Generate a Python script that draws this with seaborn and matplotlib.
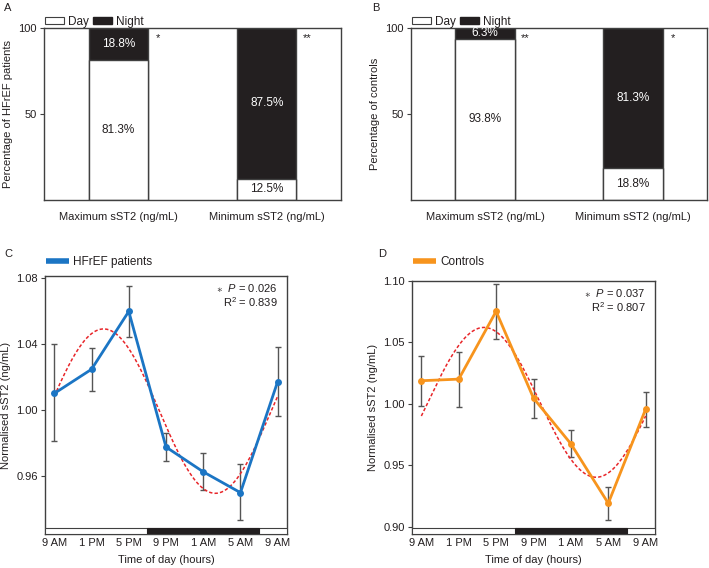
import numpy as np
import pandas as pd
import seaborn as sns
import matplotlib.pyplot as plt
from matplotlib.patches import Patch
from matplotlib.lines import Line2D

sns.set_theme(style='ticks')
plt.rcParams.update({
    'font.family': ['Liberation Sans', 'DejaVu Sans'],
    'font.size': 8,
    'mathtext.fontset': 'custom',
    'mathtext.rm': 'Liberation Sans',
    'mathtext.it': 'Liberation Sans:italic',
    'axes.edgecolor': '#404040',
    'axes.linewidth': 1.0,
    'xtick.color': '#404040',
    'ytick.color': '#404040',
    'xtick.labelcolor': '#231f20',
    'ytick.labelcolor': '#231f20',
    'text.color': '#231f20',
    'axes.labelcolor': '#231f20',
})

# --- bar panels (A, B) ---
categories = ['Maximum sST2 (ng/mL)', 'Minimum sST2 (ng/mL)']
hf_day = [81.3, 12.5]
hf_night = [18.8, 87.5]
hf_stars = ['*', '**']
ctrl_day = [93.8, 18.8]
ctrl_night = [6.3, 81.3]
ctrl_stars = ['**', '*']

# --- time course panels (C, D) ---
times = ['9 AM', '1 PM', '5 PM', '9 PM', '1 AM', '5 AM', '9 AM']
hf_mean = [1.010, 1.0246, 1.0596, 0.9776, 0.9626, 0.950, 1.0172]
hf_upper = [1.0396, 1.0376, 1.075, 0.9858, 0.9738, 0.9672, 1.038]
hf_lower = [0.981, 1.0114, 1.044, 0.9692, 0.9516, 0.9336, 0.9966]
ctrl_mean = [1.0188, 1.0201, 1.0753, 1.0046, 0.9674, 0.919, 0.9957]
ctrl_upper = [1.0386, 1.0421, 1.0978, 1.0201, 0.9783, 0.9326, 1.010]
ctrl_lower = [0.998, 0.9978, 1.053, 0.9886, 0.9565, 0.9054, 0.9813]

# cosinor fits (mesor, amplitude, peak in hours after 9 AM), 24 h period
hf_mesor, hf_amp, hf_peak_h = 0.9993, 0.0497, 5.3
ctrl_mesor, ctrl_amp, ctrl_peak_h = 1.0012, 0.061, 6.7
hf_p, hf_r2 = '0.026', '0.839'
ctrl_p, ctrl_r2 = '0.037', '0.807'

BLUE = '#1b75c4'
ORANGE = '#f7941d'
NIGHT = '#231f20'
EDGE = '#404040'
ERR = '#555555'
FIT = '#e8262a'

W, H = 709, 568
fig = plt.figure(figsize=(W / 100, H / 100), dpi=100)


def px_axes(left, top, right, bottom):
    return fig.add_axes([left / W, 1 - bottom / H, (right - left) / W, (bottom - top) / H])


def bar_panel(ax, day, night, stars, ylabel):
    total = [d + n for d, n in zip(day, night)]
    sns.barplot(x=categories, y=total, color=NIGHT, width=0.4, saturation=1,
                edgecolor=EDGE, linewidth=1, ax=ax)
    sns.barplot(x=categories, y=day, color='white', width=0.4, saturation=1,
                edgecolor=EDGE, linewidth=1, ax=ax)
    for i in range(len(categories)):
        ax.text(i, day[i] / 2, f'{day[i]:.1f}%', ha='center', va='center',
                fontsize=8.5, color='#231f20')
        ax.text(i, day[i] + night[i] / 2, f'{night[i]:.1f}%', ha='center',
                va='center', fontsize=8.5, color='white')
        ax.text(i + 0.27, 94, stars[i], ha='center', va='center', fontsize=8)
    ax.set_xlim(-0.5, 1.5)
    ax.set_ylim(0, 100)
    ax.set_yticks([50, 100])
    ax.set_ylabel(ylabel, fontsize=8, labelpad=4)
    ax.tick_params(axis='x', length=0, pad=9, labelsize=8)
    ax.tick_params(axis='y', length=3, width=0.8, pad=2, labelsize=8)
    handles = [Patch(facecolor='white', edgecolor=EDGE, linewidth=0.8, label='Day'),
               Patch(facecolor=NIGHT, edgecolor=NIGHT, label='Night')]
    ax.legend(handles=handles, loc='lower left', bbox_to_anchor=(0.0, 0.995),
              ncol=2, frameon=False, fontsize=8.5, handlelength=1.6, handleheight=0.5,
              handletextpad=0.3, columnspacing=0.4, borderaxespad=0, borderpad=0.1)


def time_panel(ax, mean, lower, upper, mesor, amp, peak_h, color, label,
               p, r2, yticks, ylim):
    xpos = np.arange(len(times))
    mean = np.array(mean)
    yerr = [mean - np.array(lower), np.array(upper) - mean]
    ax.errorbar(xpos, mean, yerr=yerr, fmt='none', ecolor=ERR, elinewidth=1,
                capsize=2.5, capthick=1, zorder=2)
    hours = np.linspace(0, 24, 200)
    fit = mesor + amp * np.cos(2 * np.pi * (hours - peak_h) / 24)
    sns.lineplot(x=hours / 4, y=fit, color=FIT, lw=1.1, dashes=False,
                 linestyle=(0, (2.2, 1.4)), ax=ax, zorder=3)
    sns.lineplot(x=xpos, y=mean, color=color, lw=2, marker='o', markersize=5,
                 markeredgewidth=0, ax=ax, zorder=4)
    ax.set_xlim(-0.25, 6.25)
    ax.set_ylim(*ylim)
    ax.set_xticks(xpos)
    ax.set_xticklabels(times)
    ax.set_yticks(yticks)
    ax.set_yticklabels([f'{v:.2f}' for v in yticks])
    ax.tick_params(axis='x', length=0, pad=3, labelsize=8)
    ax.tick_params(axis='y', length=3, width=0.8, pad=2, labelsize=8)
    ax.set_xlabel('Time of day (hours)', fontsize=8, labelpad=5)
    ax.set_ylabel('Normalised sST2 (ng/mL)', fontsize=8, labelpad=4)
    # day / night strip along the bottom
    ax.axvspan(-0.25, 6.25, ymin=0, ymax=0.022, facecolor='white',
               edgecolor=EDGE, lw=0.8, zorder=5)
    ax.axvspan(2.5, 5.5, ymin=0, ymax=0.022, facecolor=NIGHT, edgecolor=NIGHT,
               lw=0.8, zorder=6)
    ax.text(0.96, 0.975, r'$\ast$  $P$ = ' + p, transform=ax.transAxes,
            ha='right', va='top', fontsize=8)
    ax.text(0.96, 0.925, r'R$^2$ = ' + r2, transform=ax.transAxes,
            ha='right', va='top', fontsize=8)
    handles = [Line2D([], [], color=color, lw=4, solid_capstyle='butt', label=label)]
    x0 = ax.get_position().x0
    ax.legend(handles=handles, loc='center left', bbox_to_anchor=(x0, 1 - 262 / H),
              bbox_transform=fig.transFigure, frameon=False, fontsize=8.5,
              handlelength=1.9, handletextpad=0.4, borderaxespad=0, borderpad=0.1)


axA = px_axes(44, 28, 341, 200)
bar_panel(axA, hf_day, hf_night, hf_stars, 'Percentage of HFrEF patients')
axB = px_axes(411, 28, 707, 200)
bar_panel(axB, ctrl_day, ctrl_night, ctrl_stars, 'Percentage of controls')

axC = px_axes(45, 276, 287, 534)
time_panel(axC, hf_mean, hf_lower, hf_upper, hf_mesor, hf_amp, hf_peak_h, BLUE,
           'HFrEF patients', hf_p, hf_r2, [0.96, 1.00, 1.04, 1.08], (0.925, 1.081))
axD = px_axes(412, 281, 655, 534)
time_panel(axD, ctrl_mean, ctrl_lower, ctrl_upper, ctrl_mesor, ctrl_amp, ctrl_peak_h,
           ORANGE, 'Controls', ctrl_p, ctrl_r2, [0.90, 0.95, 1.00, 1.05, 1.10],
           (0.894, 1.10))

for letter, x, y in [('A', 4, 8), ('B', 372, 8), ('C', 4, 254), ('D', 378, 254)]:
    fig.text(x / W, 1 - y / H, letter, ha='left', va='center', fontsize=8)

fig.savefig('out.png', dpi=100)
